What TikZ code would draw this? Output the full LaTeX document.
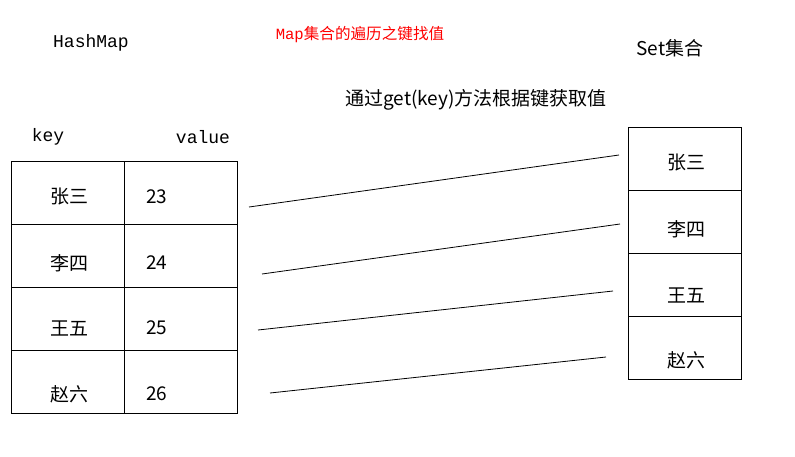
\documentclass[tikz,border=0pt]{standalone}
\usepackage{fontspec}
\setmainfont{Noto Sans CJK SC}
\newfontfamily\monofont{Liberation Mono}
\begin{document}
\begin{tikzpicture}[x=1pt,y=1pt,
  cell/.style={draw=black,line width=1pt,minimum width=113pt,minimum height=63pt,inner sep=0pt},
  txt/.style={inner sep=0pt,font=\fontsize{19}{21}\selectfont},
  mono/.style={inner sep=0pt,font=\fontsize{18}{20}\selectfont\monofont},
  link/.style={black,line width=0.8pt}]
  \useasboundingbox (0,0) rectangle (795,-456);
  % titles
  \node [mono] (hashmap) at (91,-43) {HashMap};
  \node [inner sep=0pt,text=red,font=\fontsize{15.6}{17}\selectfont] (title) at (360,-35) {{\monofont Map}集合的遍历之键找值};
  \node [txt] (setname) at (670,-48) {Set集合};
  \node [txt] (method) at (476,-100) {通过get(key)方法根据键获取值};
  \node [mono] (keyhead) at (48,-137) {key};
  \node [mono] (valhead) at (203,-137) {value};
  % HashMap table
  \node [cell] (k1) at (67.5,-192.5) {};
  \node [cell] (k2) at (67.5,-255.5) {};
  \node [cell] (k3) at (67.5,-318.5) {};
  \node [cell] (k4) at (67.5,-381.5) {};
  \node [cell] (v1) at (180.5,-192.5) {};
  \node [cell] (v2) at (180.5,-255.5) {};
  \node [cell] (v3) at (180.5,-318.5) {};
  \node [cell] (v4) at (180.5,-381.5) {};
  \node [txt] (k1t) at (69,-197) {张三};
  \node [txt] (k2t) at (69,-263) {李四};
  \node [txt] (k3t) at (69,-328) {王五};
  \node [txt] (k4t) at (69,-394) {赵六};
  \node [txt,anchor=west] (v1t) at (146,-197) {23};
  \node [txt,anchor=west] (v2t) at (146,-263) {24};
  \node [txt,anchor=west] (v3t) at (146,-328) {25};
  \node [txt,anchor=west] (v4t) at (146,-394) {26};
  % Set table
  \node [cell] (s1) at (684.5,-158.5) {};
  \node [cell] (s2) at (684.5,-221.5) {};
  \node [cell] (s3) at (684.5,-284.5) {};
  \node [cell] (s4) at (684.5,-347.5) {};
  \node [txt] (s1t) at (686,-163) {张三};
  \node [txt] (s2t) at (686,-229) {李四};
  \node [txt] (s3t) at (686,-295) {王五};
  \node [txt] (s4t) at (686,-360) {赵六};
  % lines
  \coordinate (a1) at (249,-207);
  \coordinate (b1) at (619,-155);
  \coordinate (a2) at (262,-274);
  \coordinate (b2) at (620,-224);
  \coordinate (a3) at (258,-330);
  \coordinate (b3) at (613,-291);
  \coordinate (a4) at (270,-393);
  \coordinate (b4) at (606,-357);
  \foreach \i in {1,...,4}
    \draw [link] (a\i) -- (b\i);
\end{tikzpicture}
\end{document}
